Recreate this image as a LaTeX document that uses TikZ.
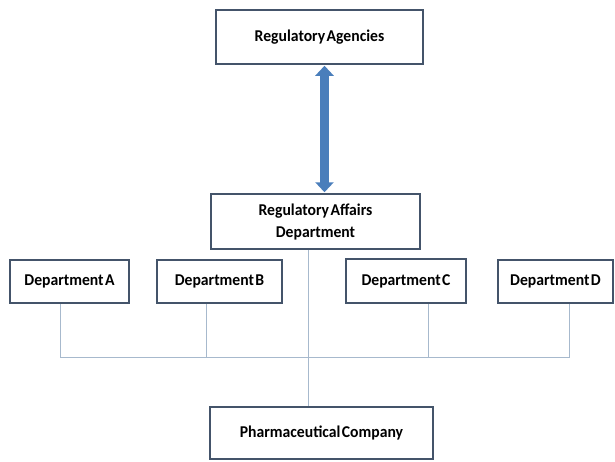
\documentclass[tikz,border=0pt]{standalone}
\usepackage{fontspec}
\setmainfont[FakeStretch=0.95,WordSpace=0.4]{Carlito}
\usetikzlibrary{arrows.meta,calc}
\definecolor{boxline}{HTML}{44546A}
\definecolor{conn}{HTML}{A7B9CD}
\definecolor{arrowblue}{HTML}{4A7EBB}
\tikzset{
  orgbox/.style={draw=boxline, line width=1.5pt, fill=white, inner sep=0pt,
    font=\bfseries\fontsize{16.5}{22}\selectfont, align=center, text=black},
  connline/.style={draw=conn, line width=1pt},
  bigarrow/.style={draw=arrowblue, line width=9pt,
    {Triangle[width=18pt,length=10pt]}-{Triangle[width=18pt,length=10pt]}}
}
\begin{document}
\begin{tikzpicture}[x=1pt,y=-1pt]
\useasboundingbox (0,0) rectangle (615,461);
\node[orgbox, minimum width=207pt, minimum height=54pt] (ag) at (319.5,37) {Regulatory Agencies};
\node[orgbox, minimum width=209pt, minimum height=55pt] (ra) at (315.5,221.5) {Regulatory Affairs\\Department};
\node[orgbox, minimum width=119pt, minimum height=43pt] (A) at (69.5,281.5) {Department A};
\node[orgbox, minimum width=125pt, minimum height=43pt] (B) at (219.5,281.5) {Department B};
\node[orgbox, minimum width=120pt, minimum height=44pt] (C) at (406,281) {Department C};
\node[orgbox, minimum width=115pt, minimum height=43pt] (D) at (555.5,281.5) {Department D};
\node[orgbox, minimum width=223pt, minimum height=52pt] (pc) at (321.5,433) {Pharmaceutical Company};
\coordinate (ax) at (324.5,0);
\coordinate (jA) at (60,357);
\coordinate (jB) at (206,357);
\coordinate (jC) at (428,357);
\coordinate (jD) at (569,357);
\coordinate (rx) at (308,0);
\draw[connline] (A.south -| jA) -- (jA) -- (jD) -- (D.south -| jD);
\draw[connline] (B.south -| jB) -- (jB);
\draw[connline] (C.south -| jC) -- (jC);
\draw[connline] (ra.south -| rx) -- (pc.north -| rx);
\draw[bigarrow] ($(ag.south -| ax)+(0,1)$) -- ($(ra.north -| ax)+(0,-1)$);
\end{tikzpicture}
\end{document}
